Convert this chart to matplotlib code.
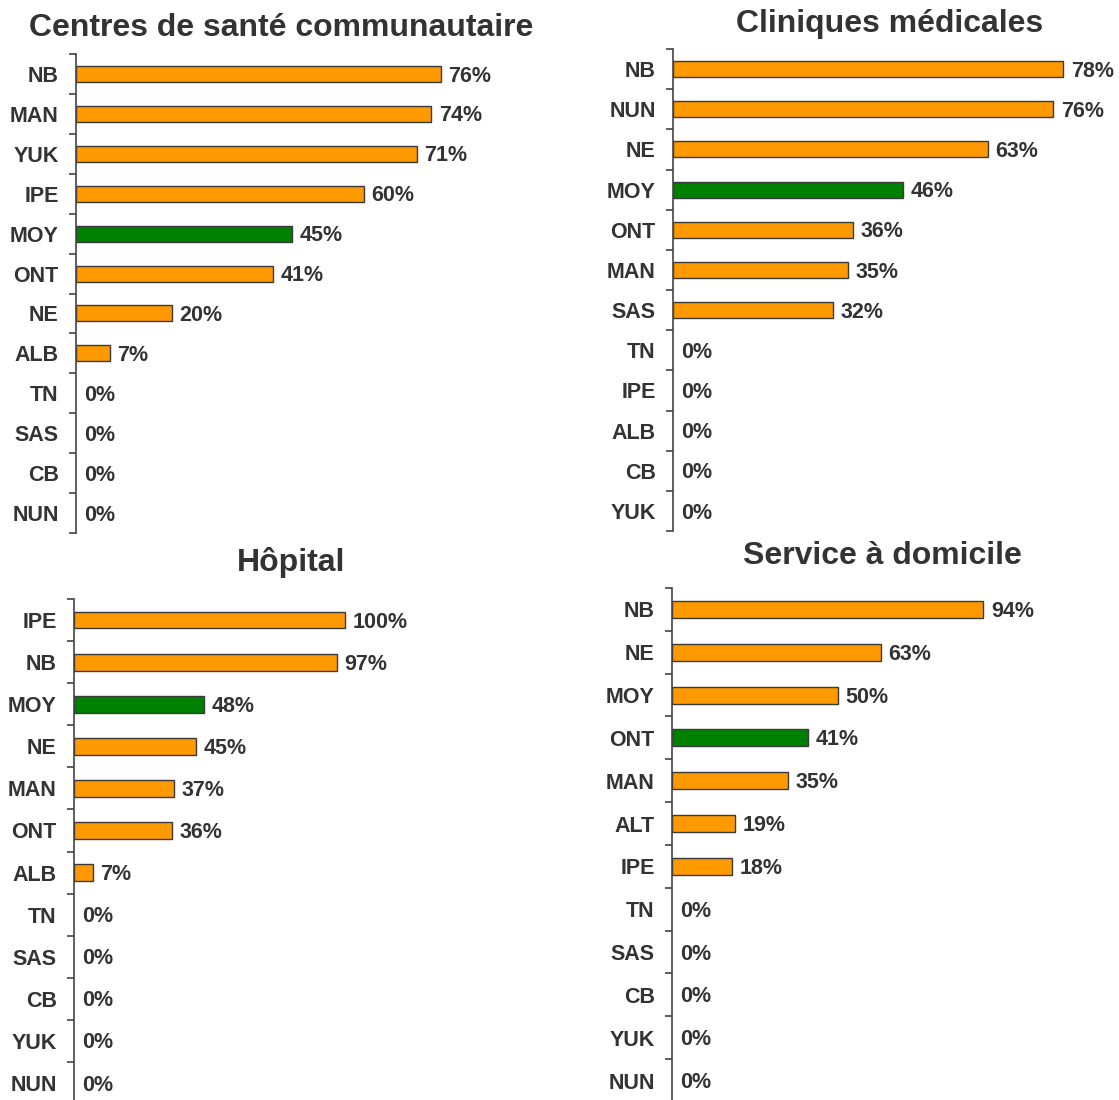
import matplotlib
matplotlib.use('Agg')
import matplotlib.pyplot as plt

plt.rcParams['font.family'] = ['Liberation Sans', 'DejaVu Sans']
plt.rcParams['font.weight'] = 'bold'

TEXT = '#333333'
ORANGE = '#FF9900'
GREEN = '#008000'
EDGE = '#3a3a3a'

# Centres de santé communautaire
cats_csc = ['NB', 'MAN', 'YUK', 'IPE', 'MOY', 'ONT', 'NE', 'ALB', 'TN', 'SAS', 'CB', 'NUN']
vals_csc = [76, 74, 71, 60, 45, 41, 20, 7, 0, 0, 0, 0]

# Cliniques médicales
cats_cli = ['NB', 'NUN', 'NE', 'MOY', 'ONT', 'MAN', 'SAS', 'TN', 'IPE', 'ALB', 'CB', 'YUK']
vals_cli = [78, 76, 63, 46, 36, 35, 32, 0, 0, 0, 0, 0]

# Hôpital
cats_hop = ['IPE', 'NB', 'MOY', 'NE', 'MAN', 'ONT', 'ALB', 'TN', 'SAS', 'CB', 'YUK', 'NUN']
vals_hop = [100, 97, 48, 45, 37, 36, 7, 0, 0, 0, 0, 0]

# Service à domicile
cats_dom = ['NB', 'NE', 'MOY', 'ONT', 'MAN', 'ALT', 'IPE', 'TN', 'SAS', 'CB', 'YUK', 'NUN']
vals_dom = [94, 63, 50, 41, 35, 19, 18, 0, 0, 0, 0, 0]

W, H = 1119, 1100
fig = plt.figure(figsize=(W / 100, H / 100), dpi=100)


def px_axes(left, top, width, bottom):
    return fig.add_axes([left / W, 1 - bottom / H, width / W, (bottom - top) / H])


def draw_panel(ax, cats, vals, highlight, xmax):
    n = len(cats)
    ys = list(range(n))
    colors = [GREEN if c == highlight else ORANGE for c in cats]
    widths = [1.0 if v > 0 else 0 for v in vals]
    ax.barh(ys, vals, height=0.4, color=colors, edgecolor=EDGE, linewidth=widths)
    for y, v in zip(ys, vals):
        ax.annotate(f'{v}%', (v, y), xytext=(5.5, -1.5), textcoords='offset points',
                    ha='left', va='center', fontsize=15.5, fontweight='bold', color=TEXT)
    ax.set_ylim(n - 0.5, -0.5)
    ax.set_xlim(0, xmax)
    ax.set_yticks(ys)
    ax.set_yticklabels(cats, fontsize=15.5, fontweight='bold', color=TEXT)
    ax.set_yticks([i - 0.5 for i in range(n + 1)], minor=True)
    ax.tick_params(axis='y', which='major', length=0, pad=12.5)
    ax.tick_params(axis='y', which='minor', length=5, width=1.2, color='#444444', direction='out')
    ax.set_xticks([])
    for s in ['top', 'right', 'bottom']:
        ax.spines[s].set_visible(False)
    ax.spines['left'].set_color('#444444')
    ax.spines['left'].set_linewidth(1.2)
    ax.patch.set_alpha(0)


ax1 = px_axes(76, 54, 480, 533)
draw_panel(ax1, cats_csc, vals_csc, 'MOY', 100)

ax2 = px_axes(673, 49, 446, 531)
draw_panel(ax2, cats_cli, vals_cli, 'MOY', 446 / 5.0)

ax3 = px_axes(74, 599, 400, 1104)
draw_panel(ax3, cats_hop, vals_hop, 'MOY', 400 / 2.71)

ax4 = px_axes(672, 588, 400, 1102)
draw_panel(ax4, cats_dom, vals_dom, 'ONT', 400 / 3.31)

titles = [('Centres de santé communautaire', 281, 28),
          ('Cliniques médicales', 890, 24),
          ('Hôpital', 291, 562),
          ('Service à domicile', 882, 556)]
for t, x, y in titles:
    fig.text(x / W, 1 - y / H, t, ha='center', va='center', fontsize=23,
             fontweight='bold', color=TEXT)

fig.savefig('out.png', dpi=100)
